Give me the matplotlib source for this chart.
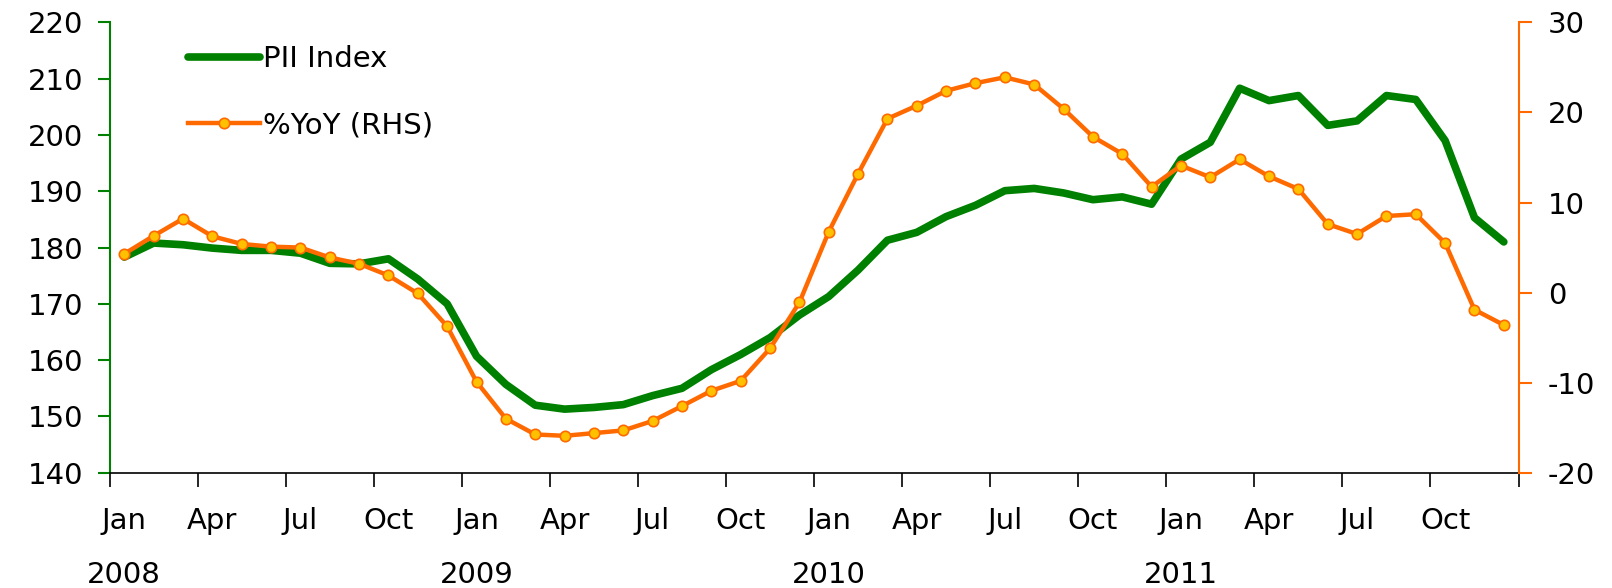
import numpy as np
import matplotlib
matplotlib.use("Agg")
import matplotlib.pyplot as plt
import matplotlib.transforms as mtransforms

plt.rcParams["axes.unicode_minus"] = False

months = ["Jan", "Feb", "Mar", "Apr", "May", "Jun",
          "Jul", "Aug", "Sep", "Oct", "Nov", "Dec"]
years = ["2008", "2009", "2010", "2011"]

pii_index = [178.3, 180.8, 180.5, 179.9, 179.5, 179.5, 179.0, 177.2, 177.1, 178.0, 174.4, 170.0,
             160.7, 155.7, 152.0, 151.3, 151.6, 152.1, 153.7, 155.0, 158.3, 161.0, 164.0, 168.0,
             171.3, 176.0, 181.3, 182.7, 185.5, 187.5, 190.1, 190.5, 189.7, 188.5, 189.0, 187.7,
             195.7, 198.7, 208.3, 206.1, 207.0, 201.7, 202.5, 207.0, 206.3, 199.0, 185.3, 181.0]

yoy = [4.3, 6.3, 8.2, 6.25, 5.4, 5.1, 5.0, 3.9, 3.2, 1.9, -0.1, -3.75,
       -9.9, -14.0, -15.75, -15.9, -15.6, -15.3, -14.25, -12.6, -10.9, -9.8, -6.2, -1.1,
       6.75, 13.2, 19.3, 20.75, 22.4, 23.25, 23.9, 23.1, 20.4, 17.3, 15.4, 11.75,
       14.1, 12.8, 14.8, 12.9, 11.5, 7.6, 6.5, 8.5, 8.7, 5.5, -1.9, -3.6]

green = "#008000"
orange = "#FF6A00"
fs = 21

x = np.arange(len(pii_index))

fig = plt.figure(figsize=(16.12, 5.88), dpi=100)
ax = fig.add_axes([0.068, 0.196, 0.874, 0.766])
ax2 = ax.twinx()

l1, = ax.plot(x, pii_index, color=green, lw=5.5, solid_capstyle="round",
              solid_joinstyle="round", label="PII Index")
l2, = ax2.plot(x, yoy, color=orange, lw=3.2, marker="o", markersize=7.5,
               markerfacecolor="#FFC000", markeredgecolor=orange, markeredgewidth=1.2,
               label="%YoY (RHS)")

ax.set_xlim(-0.5, len(x) - 0.5)
ax.set_ylim(140, 220)
ax2.set_ylim(-20, 30)
ax.set_yticks(np.arange(140, 221, 10))
ax2.set_yticks(np.arange(-20, 31, 10))

# spines
for a in (ax, ax2):
    a.spines["top"].set_visible(False)
ax.spines["left"].set_color(green)
ax.spines["left"].set_linewidth(1.5)
ax2.spines["right"].set_color(orange)
ax2.spines["right"].set_linewidth(1.5)
ax2.spines["left"].set_visible(False)
ax.spines["right"].set_visible(False)
ax.spines["bottom"].set_linewidth(1.2)
ax2.spines["bottom"].set_visible(False)

ax.tick_params(axis="y", colors=green, labelcolor="black", labelsize=fs,
               length=9, width=1.5, direction="out", pad=10)
ax2.tick_params(axis="y", colors=orange, labelcolor="black", labelsize=fs,
                length=9, width=1.5, direction="out", pad=12)

# x ticks: marks at quarter boundaries, month labels at category centres
ax.set_xticks(np.arange(-0.5, len(x), 3))
ax.set_xticklabels([])
ax.tick_params(axis="x", which="major", length=10, width=1.2, direction="out")
ax.set_xticks(np.arange(0, len(x), 3), minor=True)
ax.set_xticklabels([months[i % 12] for i in range(0, len(x), 3)], minor=True)
ax.tick_params(axis="x", which="minor", length=0, labelsize=fs, pad=25)

trans = mtransforms.blended_transform_factory(ax.transData, ax.transAxes)
for k, yr in enumerate(years):
    ax.text(12 * k, -0.195, yr, transform=trans, ha="center", va="top", fontsize=fs)

ax.legend(handles=[l1, l2], loc="upper left", bbox_to_anchor=(0.047, 0.975),
          frameon=False, fontsize=fs, handlelength=2.5, handletextpad=0.1,
          labelspacing=1.3, borderaxespad=0)

fig.savefig("out.png", dpi=100)
